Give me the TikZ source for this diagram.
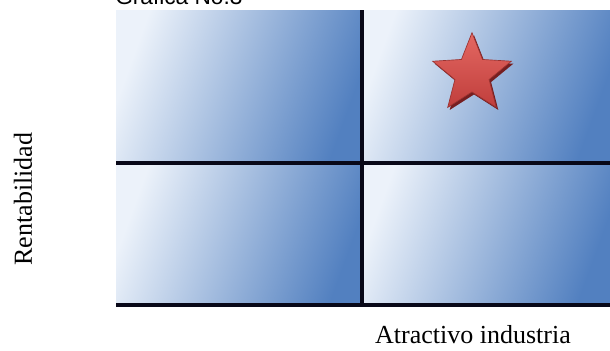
\documentclass[tikz,border=0pt]{standalone}
\usepackage{fontspec}
\setmainfont{Liberation Serif}
\newfontfamily\titlefont{Liberation Sans}
\usetikzlibrary{shapes.geometric}
\definecolor{qlight}{RGB}{236,242,250}
\definecolor{qmid}{RGB}{128,162,210}
\definecolor{qdark}{RGB}{82,128,192}
\definecolor{gridline}{RGB}{8,8,24}
\definecolor{starhi}{RGB}{228,104,98}
\definecolor{starlo}{RGB}{192,62,60}
\definecolor{starshadow}{RGB}{118,30,32}
\begin{document}
\begin{tikzpicture}[x=0.75pt,y=-0.75pt,
  quad/.style={shading=axis, top color=qlight, middle color=qmid, bottom color=qdark, shading angle=70},
  gridrule/.style={draw=gridline, line width=2.5pt},
  axislabel/.style={font=\fontsize{19.5}{22}\selectfont, inner sep=0pt},
  starbody/.style={star, star points=5, star point ratio=2.3, minimum size=62pt, inner sep=0pt}]
\useasboundingbox (0,0) rectangle (610,350);
% quadrants
\shade[quad] (116,10) rectangle (362,163);
\shade[quad] (362,10) rectangle (610,163);
\shade[quad] (116,163) rectangle (362,305);
\shade[quad] (362,163) rectangle (610,305);
% grid coordinates
\coordinate (vtop) at (362,10);
\coordinate (vbot) at (362,305);
\coordinate (hleft) at (116,163);
\coordinate (hright) at (610,163);
\coordinate (bleft) at (116,305);
\coordinate (bright) at (610,305);
\draw[gridrule] (vtop) -- (vbot);
\draw[gridrule] (hleft) -- (hright);
\draw[gridrule] (bleft) -- (bright);
% star
\node[starbody, fill=starshadow] (starshade) at (474,76.5) {};
\node[starbody, top color=starhi, bottom color=starlo, draw=starlo!80!black, line width=0.5pt] (star) at (472,74) {};
% labels
\node[anchor=base west, inner sep=0pt, font=\titlefont\fontsize{17}{20}\selectfont] (title) at (115,4.5) {Grafica No.3};
\node[axislabel] (xlab) at (473,335) {Atractivo industria};
\node[axislabel, rotate=90] (ylab) at (23,199) {Rentabilidad};
\end{tikzpicture}
\end{document}
